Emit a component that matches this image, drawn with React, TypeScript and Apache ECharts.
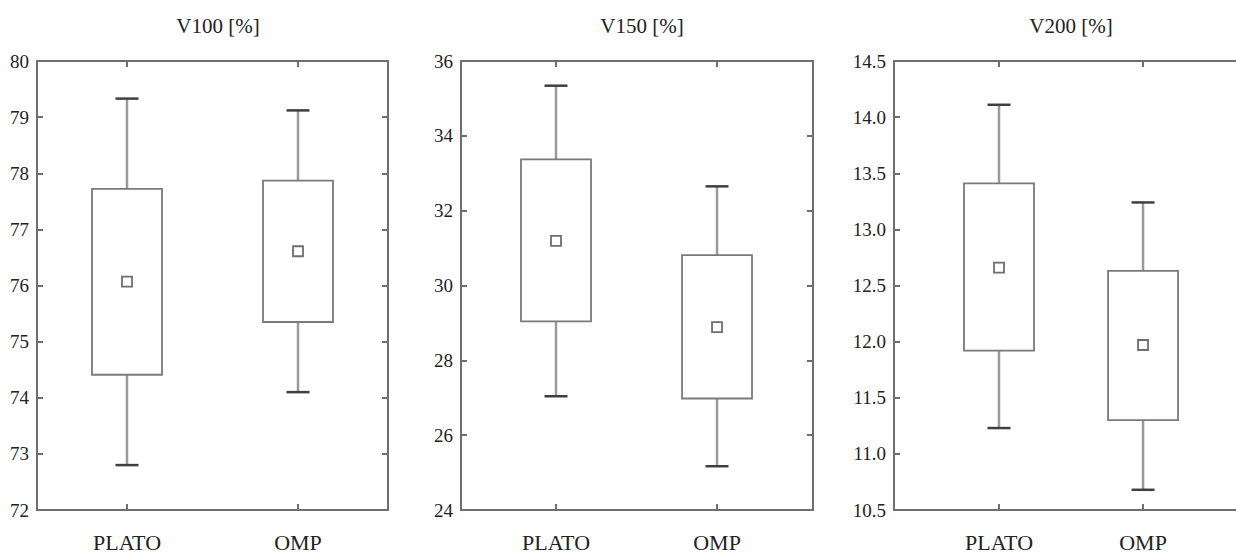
import React, { useEffect, useRef } from "react";
import * as echarts from "echarts";

const categories = ["PLATO", "OMP"];
const panelTitles = ["V100 [%]", "V150 [%]", "V200 [%]"];

// V100
const v100Low = [72.8, 74.1];
const v100Q1 = [74.41, 75.35];
const v100Q3 = [77.72, 77.87];
const v100High = [79.33, 79.12];
const v100Mean = [76.07, 76.61];

// V150
const v150Low = [27.04, 25.17];
const v150Q1 = [29.04, 26.98];
const v150Q3 = [33.37, 30.81];
const v150High = [35.34, 32.65];
const v150Mean = [31.19, 28.89];

// V200
const v200Low = [11.23, 10.68];
const v200Q1 = [11.92, 11.3];
const v200Q3 = [13.41, 12.63];
const v200High = [14.11, 13.24];
const v200Mean = [12.66, 11.97];

// y-axis ranges / tick steps
const yMins = [72, 24, 10.5];
const yMaxs = [80, 36, 14.5];
const ySteps = [1, 2, 0.5];
const yDecimals = [0, 0, 1];

const lows = [v100Low, v150Low, v200Low];
const q1s = [v100Q1, v150Q1, v200Q1];
const q3s = [v100Q3, v150Q3, v200Q3];
const highs = [v100High, v150High, v200High];
const means = [v100Mean, v150Mean, v200Mean];

// layout (pixels / axis extents)
const grids = [
  { left: 37, top: 61, width: 351, height: 451 },
  { left: 461, top: 61, width: 352, height: 451 },
  { left: 894, top: 61, width: 350, height: 451 },
];
const titleCenters = [213, 637, 1066];
const xRanges = [
  [0.4737, 2.5263],
  [0.41, 2.596],
  [0.271, 2.701],
];

const FONT = "'Liberation Serif', 'DejaVu Serif', serif";
const AXIS_COLOR = "#6f6f6f";
const TEXT_COLOR = "#222";

export default function App() {
  const ref = useRef<HTMLDivElement>(null);

  useEffect(() => {
    document.body.style.margin = "0";
    document.body.style.overflow = "hidden";
    document.documentElement.style.overflow = "hidden";
    if (!ref.current) return;
    const chart = echarts.init(ref.current, null, { renderer: "svg" });

    const xAxes: any[] = [];
    const yAxes: any[] = [];
    const series: any[] = [];

    grids.forEach((g, i) => {
      const xBase = {
        type: "value",
        gridIndex: i,
        min: xRanges[i][0],
        max: xRanges[i][1],
        splitLine: { show: false },
        axisLine: { show: true, lineStyle: { color: AXIS_COLOR, width: 2 } },
        axisTick: {
          show: true,
          inside: true,
          length: 6,
          customValues: [1, 2],
          lineStyle: { color: AXIS_COLOR, width: 2 },
        },
      };
      xAxes.push({
        ...xBase,
        position: "bottom",
        axisLabel: {
          show: true,
          customValues: [1, 2],
          formatter: (v: number) => categories[Math.round(v) - 1] ?? "",
          fontFamily: FONT,
          fontSize: 22,
          color: TEXT_COLOR,
          margin: 21,
        },
      });
      xAxes.push({
        ...xBase,
        position: "top",
        axisLabel: { show: false },
      });
      const yBase = {
        type: "value",
        gridIndex: i,
        min: yMins[i],
        max: yMaxs[i],
        interval: ySteps[i],
        splitLine: { show: false },
        axisLine: { show: true, lineStyle: { color: AXIS_COLOR, width: 2 } },
        axisTick: {
          show: true,
          inside: true,
          length: 6,
          lineStyle: { color: AXIS_COLOR, width: 2 },
        },
      };
      yAxes.push({
        ...yBase,
        position: "left",
        axisLabel: {
          show: true,
          formatter: (v: number) => v.toFixed(yDecimals[i]),
          fontFamily: FONT,
          fontSize: 19,
          color: TEXT_COLOR,
          margin: 8,
        },
      });
      yAxes.push({
        ...yBase,
        position: "right",
        axisLabel: { show: false },
      });

      const boxData = categories.map((_, k) => [
        k + 1,
        lows[i][k],
        q1s[i][k],
        q3s[i][k],
        highs[i][k],
      ]);
      series.push({
        type: "custom",
        xAxisIndex: i * 2,
        yAxisIndex: i * 2,
        clip: false,
        encode: { x: 0, y: [1, 2, 3, 4] },
        data: boxData,
        renderItem: (params: any, api: any) => {
          const x = api.value(0);
          const pLow = api.coord([x, api.value(1)]);
          const pQ1 = api.coord([x, api.value(2)]);
          const pQ3 = api.coord([x, api.value(3)]);
          const pHigh = api.coord([x, api.value(4)]);
          const bw = 70;
          const cw = 23;
          const whisker = { stroke: "#9a9a9a", lineWidth: 2.5 };
          const cap = { stroke: "#3f3f3f", lineWidth: 2.5 };
          return {
            type: "group",
            children: [
              {
                type: "line",
                shape: { x1: pLow[0], y1: pLow[1], x2: pQ1[0], y2: pQ1[1] },
                style: whisker,
              },
              {
                type: "line",
                shape: { x1: pQ3[0], y1: pQ3[1], x2: pHigh[0], y2: pHigh[1] },
                style: whisker,
              },
              {
                type: "line",
                shape: {
                  x1: pLow[0] - cw / 2,
                  y1: pLow[1],
                  x2: pLow[0] + cw / 2,
                  y2: pLow[1],
                },
                style: cap,
              },
              {
                type: "line",
                shape: {
                  x1: pHigh[0] - cw / 2,
                  y1: pHigh[1],
                  x2: pHigh[0] + cw / 2,
                  y2: pHigh[1],
                },
                style: cap,
              },
              {
                type: "rect",
                shape: {
                  x: pQ3[0] - bw / 2,
                  y: pQ3[1],
                  width: bw,
                  height: pQ1[1] - pQ3[1],
                },
                style: { fill: "#fff", stroke: "#7a7a7a", lineWidth: 1.8 },
              },
            ],
          };
        },
      });
      series.push({
        type: "scatter",
        xAxisIndex: i * 2,
        yAxisIndex: i * 2,
        symbol: "rect",
        symbolSize: 10,
        z: 5,
        itemStyle: { color: "#fff", borderColor: "#4a4a4a", borderWidth: 1.8 },
        data: categories.map((_, k) => [k + 1, means[i][k]]),
      });
    });

    chart.setOption({
      animation: false,
      backgroundColor: "#fff",
      title: panelTitles.map((t, i) => ({
        text: t,
        left: titleCenters[i],
        textAlign: "center",
        top: 10,
        textStyle: {
          fontFamily: FONT,
          fontSize: 21,
          fontWeight: "normal",
          color: TEXT_COLOR,
        },
      })),
      grid: grids.map((g) => ({ ...g, containLabel: false })),
      xAxis: xAxes,
      yAxis: yAxes,
      series,
    });

    return () => {
      chart.dispose();
    };
  }, []);

  return <div ref={ref} style={{ width: 1250, height: 553 }} />;
}
